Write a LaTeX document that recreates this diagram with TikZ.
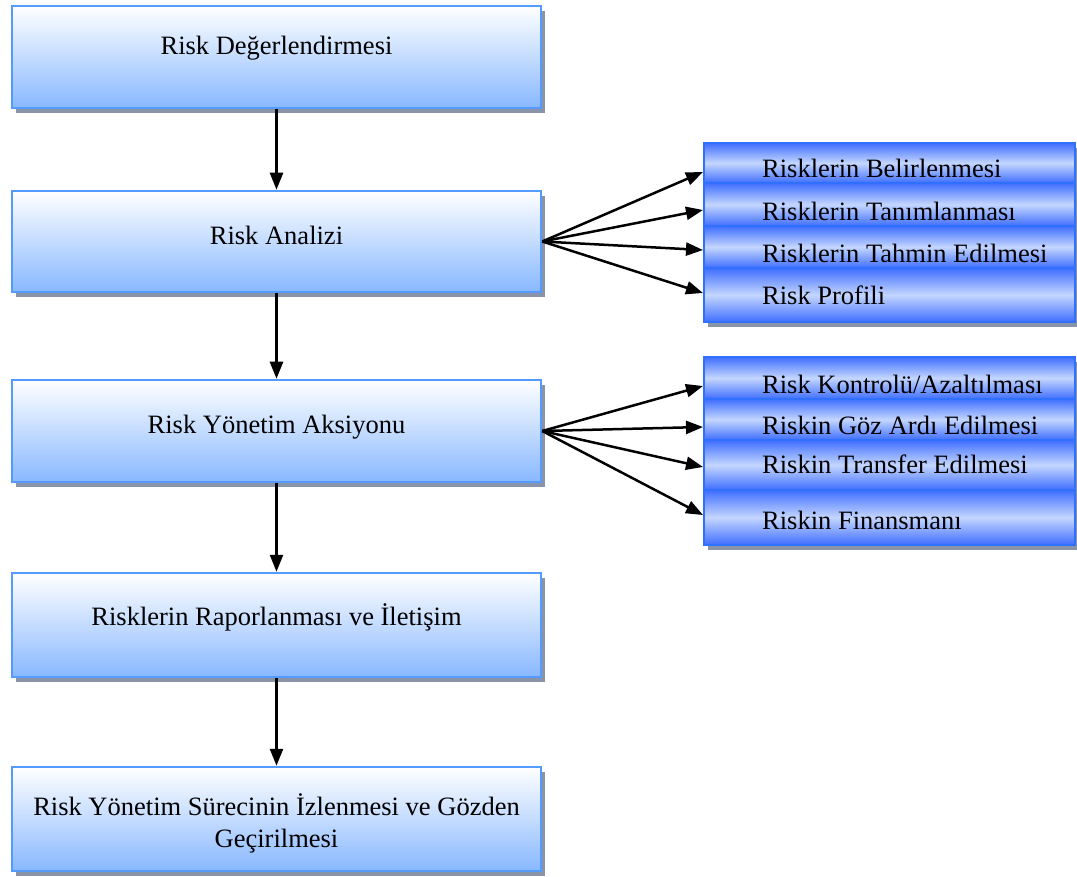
\documentclass[tikz,border=0pt]{standalone}
\usepackage{fontspec}
\setmainfont{Liberation Serif}
\usetikzlibrary{arrows.meta,shadows}
\definecolor{lborder}{HTML}{559BFF}
\definecolor{lbottom}{HTML}{88B8FF}
\definecolor{rborder}{HTML}{3070FF}
\definecolor{rdeep}{HTML}{3F6EFF}
\definecolor{rlight}{HTML}{C4D6FF}
\definecolor{shadowgrey}{HTML}{8A94A8}
\tikzset{
  stagebox/.style={rectangle, draw=lborder, line width=2.5pt,
    top color=white, bottom color=lbottom,
    minimum width=529pt, inner sep=0pt,
    drop shadow={shadow xshift=4pt, shadow yshift=-5pt, fill=shadowgrey, opacity=1}},
  subbox/.style={rectangle, draw=rborder, line width=2pt,
    top color=rdeep, bottom color=rdeep, middle color=rlight,
    minimum width=371pt, inner sep=0pt,
    drop shadow={shadow xshift=4pt, shadow yshift=-5pt, fill=shadowgrey, opacity=1}},
  stagetext/.style={font=\fontsize{26.5}{32}\selectfont, align=center, inner sep=0pt},
  subtext/.style={font=\fontsize{26.5}{30}\selectfont, anchor=west, inner sep=0pt},
  flow/.style={line width=2.5pt, -{Triangle[length=17pt,width=13pt]}},
}
\begin{document}
\begin{tikzpicture}[x=1pt, y=-1pt]
\useasboundingbox (0,0) rectangle (1077,877);

% main sequence of stages
\node[stagebox, minimum height=102pt] (L1) at (276.5,57) {};
\node[stagebox, minimum height=101pt] (L2) at (276.5,241.5) {};
\node[stagebox, minimum height=102pt] (L3) at (276.5,431) {};
\node[stagebox, minimum height=104pt] (L4) at (276.5,625) {};
\node[stagebox, minimum height=104pt] (L5) at (276.5,819) {};

\node[stagetext] (T1) at (276.5,48) {Risk Değerlendirmesi};
\node[stagetext] (T2) at (276.5,235) {Risk Analizi};
\node[stagetext] (T3) at (276.5,427) {Risk Yönetim Aksiyonu};
\node[stagetext] (T4) at (276.5,617) {Risklerin Raporlanması ve İletişim};
\node[stagetext] (T5) at (276.5,823) {Risk Yönetim Sürecinin İzlenmesi ve Gözden\\Geçirilmesi};

% analysis steps
\node[subbox, minimum height=40pt] (A1) at (889.5,163) {};
\node[subbox, minimum height=43pt] (A2) at (889.5,204.5) {};
\node[subbox, minimum height=42pt] (A3) at (889.5,247) {};
\node[subbox, minimum height=54pt] (A4) at (889.5,295) {};

\node[subtext] (a1) at (762,168) {Risklerin Belirlenmesi};
\node[subtext] (a2) at (762,211) {Risklerin Tanımlanması};
\node[subtext] (a3) at (762,253) {Risklerin Tahmin Edilmesi};
\node[subtext] (a4) at (762,295) {Risk Profili};

% management actions
\node[subbox, minimum height=42pt] (B1) at (889.5,378) {};
\node[subbox, minimum height=41pt] (B2) at (889.5,419.5) {};
\node[subbox, minimum height=50pt] (B3) at (889.5,465) {};
\node[subbox, minimum height=55pt] (B4) at (889.5,517.5) {};

\node[subtext] (b1) at (762,384) {Risk Kontrolü/Azaltılması};
\node[subtext] (b2) at (762,425) {Riskin Göz Ardı Edilmesi};
\node[subtext] (b3) at (762,464) {Riskin Transfer Edilmesi};
\node[subtext] (b4) at (762,520) {Riskin Finansmanı};

% vertical flow
\draw[flow] (L1.south) -- (L2.north);
\draw[flow] (L2.south) -- (L3.north);
\draw[flow] (L3.south) -- (L4.north);
\draw[flow] (L4.south) -- (L5.north);

% fan-out arrows
\coordinate (S2) at (L2.east);
\coordinate (S3) at (L3.east);
\draw[flow] (S2) -- ([yshift=-9pt]A1.west);
\draw[flow] (S2) -- ([yshift=-5.5pt]A2.west);
\draw[flow] (S2) -- ([yshift=-3pt]A3.west);
\draw[flow] (S2) -- ([yshift=2pt]A4.west);
\draw[flow] (S3) -- ([yshift=-8pt]B1.west);
\draw[flow] (S3) -- ([yshift=-7.5pt]B2.west);
\draw[flow] (S3) -- ([yshift=-2pt]B3.west);
\draw[flow] (S3) -- ([yshift=2.5pt]B4.west);
\end{tikzpicture}
\end{document}
